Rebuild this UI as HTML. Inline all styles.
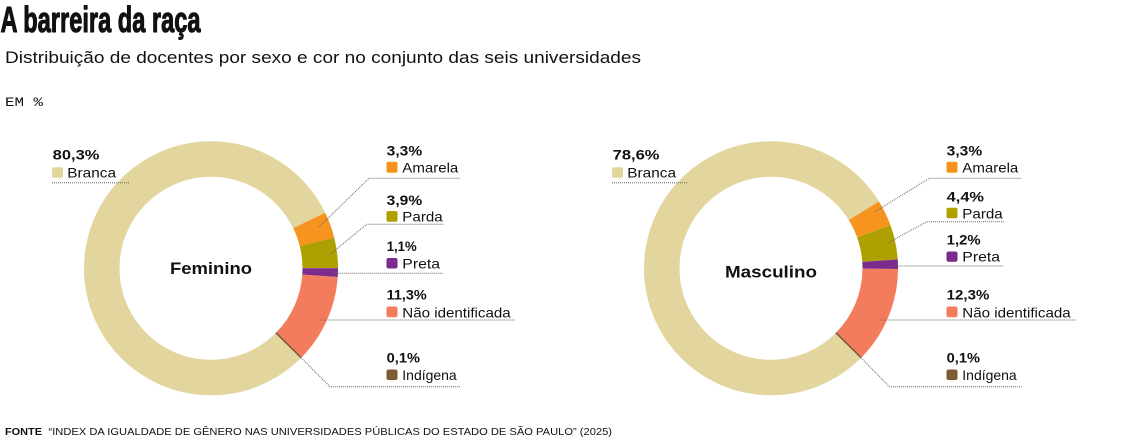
<!DOCTYPE html>
<html>
<head>
<meta charset="utf-8">
<style>
  html,body{margin:0;padding:0;background:#fff;}
  svg{display:block;}
  text{font-family:"Liberation Sans",Arial,sans-serif;fill:#111;}
  .num{font-weight:bold;font-size:14px;}
  .lab{font-size:14px;}
  .dot{fill:none;stroke:#666;stroke-width:1;stroke-dasharray:1 1;}
</style>
</head>
<body>
<svg width="1140" height="440" viewBox="0 0 1140 440" xmlns="http://www.w3.org/2000/svg">
  <!-- Title -->
  <text x="0.5" y="32" font-size="36" font-weight="bold" textLength="200" lengthAdjust="spacingAndGlyphs" stroke="#111" stroke-width="1.1" stroke-linejoin="round">A barreira da raça</text>
  <text x="5" y="63" font-size="17" textLength="636" lengthAdjust="spacingAndGlyphs">Distribuição de docentes por sexo e cor no conjunto das seis universidades</text>
  <text x="5" y="106" font-size="13" style="font-family:'Liberation Mono',monospace" textLength="38" lengthAdjust="spacingAndGlyphs">EM %</text>

  <!-- ===== Feminino donut ===== -->
  <g fill="none" stroke-width="35.5">
    <circle cx="211" cy="268.3" r="109.25" stroke="#E2D59E" stroke-dasharray="551.21 686.44" transform="rotate(45 211 268.3)"/>
    <circle cx="211" cy="268.3" r="109.25" stroke="#F6941F" stroke-dasharray="22.65 686.44" transform="rotate(-25.92 211 268.3)"/>
    <circle cx="211" cy="268.3" r="109.25" stroke="#ADA000" stroke-dasharray="26.77 686.44" transform="rotate(-14.04 211 268.3)"/>
    <circle cx="211" cy="268.3" r="109.25" stroke="#7B2A8E" stroke-dasharray="7.55 686.44" transform="rotate(0 211 268.3)"/>
    <circle cx="211" cy="268.3" r="109.25" stroke="#F37C5C" stroke-dasharray="77.57 686.44" transform="rotate(3.96 211 268.3)"/>
  </g>
  <line x1="275.9" y1="332.8" x2="301.1" y2="357.8" stroke="#6e5535" stroke-width="1.4"/>
  <text x="170" y="274" font-size="17" font-weight="bold" textLength="82" lengthAdjust="spacingAndGlyphs">Feminino</text>

  <!-- Fem leaders -->
  <polyline class="dot" points="52,182.7 129.3,182.7"/>
  <polyline class="dot" points="319.3,226.7 369,178.3 460,178.3"/>
  <polyline class="dot" points="329.3,255 366.7,224.3 444,224.3"/>
  <polyline class="dot" points="331.7,273.3 442.7,273.3"/>
  <polyline class="dot" points="318.3,320 515,320"/>
  <polyline class="dot" points="301.1,357.8 330,386.7 460,386.7"/>

  <!-- Fem labels -->
  <text class="num" x="52.7" y="159.5" textLength="46.7" lengthAdjust="spacingAndGlyphs">80,3%</text>
  <rect x="52" y="167.3" width="11" height="10.5" rx="2" fill="#E2D59E"/>
  <text class="lab" x="67.3" y="177.5" textLength="48.7" lengthAdjust="spacingAndGlyphs">Branca</text>

  <text class="num" x="386.7" y="155.5" textLength="35.5" lengthAdjust="spacingAndGlyphs">3,3%</text>
  <rect x="386.5" y="161.7" width="11" height="11" rx="2" fill="#F6941F"/>
  <text class="lab" x="402.3" y="172.5" textLength="56" lengthAdjust="spacingAndGlyphs">Amarela</text>

  <text class="num" x="386.7" y="205" textLength="35.5" lengthAdjust="spacingAndGlyphs">3,9%</text>
  <rect x="386.5" y="211" width="11" height="10.7" rx="2" fill="#ADA000"/>
  <text class="lab" x="402.3" y="221.5" textLength="40.4" lengthAdjust="spacingAndGlyphs">Parda</text>

  <text class="num" x="386.7" y="251" textLength="30" lengthAdjust="spacingAndGlyphs">1,1%</text>
  <rect x="386.5" y="258" width="11" height="10.5" rx="2" fill="#7B2A8E"/>
  <text class="lab" x="402.3" y="268.3" textLength="37.7" lengthAdjust="spacingAndGlyphs">Preta</text>

  <text class="num" x="386.7" y="299.3" textLength="40" lengthAdjust="spacingAndGlyphs">11,3%</text>
  <rect x="386.5" y="306.5" width="11" height="10.8" rx="2" fill="#F37C5C"/>
  <text class="lab" x="402.3" y="317.3" textLength="108.4" lengthAdjust="spacingAndGlyphs">Não identificada</text>

  <text class="num" x="386.7" y="362.3" textLength="33.3" lengthAdjust="spacingAndGlyphs">0,1%</text>
  <rect x="386.5" y="369.5" width="11" height="10.5" rx="2" fill="#7D5C36"/>
  <text class="lab" x="402.3" y="380" textLength="54.4" lengthAdjust="spacingAndGlyphs">Indígena</text>

  <!-- ===== Masculino donut ===== -->
  <g fill="none" stroke-width="35.5">
    <circle cx="771" cy="268.3" r="109.25" stroke="#E2D59E" stroke-dasharray="540.08 686.44" transform="rotate(45 771 268.3)"/>
    <circle cx="771" cy="268.3" r="109.25" stroke="#F6941F" stroke-dasharray="22.67 686.44" transform="rotate(-31.76 771 268.3)"/>
    <circle cx="771" cy="268.3" r="109.25" stroke="#ADA000" stroke-dasharray="30.24 686.44" transform="rotate(-19.87 771 268.3)"/>
    <circle cx="771" cy="268.3" r="109.25" stroke="#7B2A8E" stroke-dasharray="8.24 686.44" transform="rotate(-4.01 771 268.3)"/>
    <circle cx="771" cy="268.3" r="109.25" stroke="#F37C5C" stroke-dasharray="84.51 686.44" transform="rotate(0.31 771 268.3)"/>
  </g>
  <line x1="835.9" y1="332.8" x2="861.1" y2="357.8" stroke="#6e5535" stroke-width="1.4"/>
  <text x="725" y="277.7" font-size="17" font-weight="bold" textLength="92" lengthAdjust="spacingAndGlyphs">Masculino</text>

  <!-- Masc leaders -->
  <polyline class="dot" points="612,182.7 687.3,182.7"/>
  <polyline class="dot" points="875,211.7 929.3,178.3 1021.7,178.3"/>
  <polyline class="dot" points="888.3,242.7 926.7,221.7 1004,221.7"/>
  <polyline class="dot" points="891.7,266 1003.3,266"/>
  <polyline class="dot" points="878.3,320 1076,320"/>
  <polyline class="dot" points="861.1,357.8 889.3,386.7 1021.7,386.7"/>

  <!-- Masc labels -->
  <text class="num" x="612.7" y="159.5" textLength="46.7" lengthAdjust="spacingAndGlyphs">78,6%</text>
  <rect x="612" y="167.3" width="11" height="10.5" rx="2" fill="#E2D59E"/>
  <text class="lab" x="627.3" y="177.5" textLength="48.7" lengthAdjust="spacingAndGlyphs">Branca</text>

  <text class="num" x="946.7" y="155.5" textLength="35.5" lengthAdjust="spacingAndGlyphs">3,3%</text>
  <rect x="946.5" y="161.7" width="11" height="11" rx="2" fill="#F6941F"/>
  <text class="lab" x="962.3" y="172.5" textLength="56" lengthAdjust="spacingAndGlyphs">Amarela</text>

  <text class="num" x="946.7" y="201.7" textLength="37.3" lengthAdjust="spacingAndGlyphs">4,4%</text>
  <rect x="946.5" y="207.7" width="11" height="10.6" rx="2" fill="#ADA000"/>
  <text class="lab" x="962.3" y="218.3" textLength="40.4" lengthAdjust="spacingAndGlyphs">Parda</text>

  <text class="num" x="946.7" y="244.3" textLength="34" lengthAdjust="spacingAndGlyphs">1,2%</text>
  <rect x="946.5" y="251.5" width="11" height="10.3" rx="2" fill="#7B2A8E"/>
  <text class="lab" x="962.3" y="261.7" textLength="37.7" lengthAdjust="spacingAndGlyphs">Preta</text>

  <text class="num" x="946.7" y="299.3" textLength="42.7" lengthAdjust="spacingAndGlyphs">12,3%</text>
  <rect x="946.5" y="306.5" width="11" height="10.8" rx="2" fill="#F37C5C"/>
  <text class="lab" x="962.3" y="317.3" textLength="108.4" lengthAdjust="spacingAndGlyphs">Não identificada</text>

  <text class="num" x="946.7" y="362.3" textLength="33.3" lengthAdjust="spacingAndGlyphs">0,1%</text>
  <rect x="946.5" y="369.5" width="11" height="10.5" rx="2" fill="#7D5C36"/>
  <text class="lab" x="962.3" y="380" textLength="54.4" lengthAdjust="spacingAndGlyphs">Indígena</text>

  <!-- Footer -->
  <text x="5" y="435" font-size="10.5" font-weight="bold" textLength="37" lengthAdjust="spacingAndGlyphs">FONTE</text>
  <text x="48.5" y="435" font-size="10.5" textLength="563.5" lengthAdjust="spacingAndGlyphs">“INDEX DA IGUALDADE DE GÊNERO NAS UNIVERSIDADES PÚBLICAS DO ESTADO DE SÃO PAULO” (2025)</text>
</svg>
</body>
</html>
